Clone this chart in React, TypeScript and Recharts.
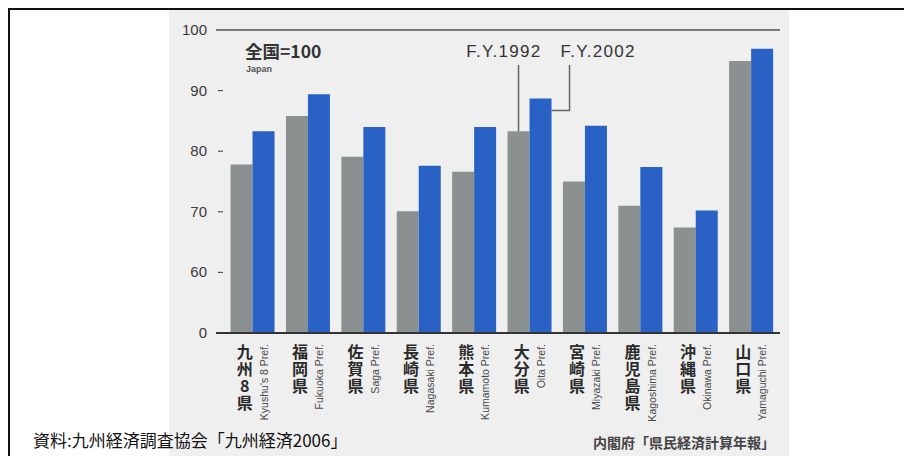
import { BarChart, Bar, XAxis, YAxis, ReferenceLine, LabelList } from "recharts";

// 一人当たり県民所得（全国=100）
const prefectures = ["九州8県", "福岡県", "佐賀県", "長崎県", "熊本県", "大分県", "宮崎県", "鹿児島県", "沖縄県", "山口県"];
const prefecturesEn = [
  "Kyushu's 8 Pref.",
  "Fukuoka Pref.",
  "Saga Pref.",
  "Nagasaki Pref.",
  "Kumamoto Pref.",
  "Oita Pref.",
  "Miyazaki Pref.",
  "Kagoshima Pref.",
  "Okinawa Pref.",
  "Yamaguchi Pref.",
];
const fy1992 = [77.8, 85.8, 79.1, 70.1, 76.6, 83.3, 75.0, 71.0, 67.4, 94.9];
const fy2002 = [83.3, 89.4, 84.0, 77.6, 84.0, 88.7, 84.2, 77.4, 70.2, 96.9];
// 軸は途中を省略しているので 50 の位置に「0」を表示する
const yTicks = [50, 60, 70, 80, 90, 100];

const data = prefectures.map((name, i) => ({
  name,
  en: prefecturesEn[i],
  fy1992: fy1992[i],
  fy2002: fy2002[i],
}));

const GRAY = "#8b9090";
const BLUE = "#2962c4";
const NUM_FONT = '"Liberation Sans", Arial, sans-serif';
const JP_FONT = '"Noto Sans CJK JP", "Noto Sans", sans-serif';
const ANNOT_TOP = 65;

function YTick({ x, y, payload }: any) {
  const v = payload.value;
  return (
    <g>
      <text x={x - 9} y={y} dy={5} textAnchor="end" fontSize={15} fill="#3a3a3a" fontFamily={NUM_FONT}>
        {v === 50 ? "0" : v}
      </text>
      {v > 50 && v < 100 && <line x1={x + 2} x2={x + 7} y1={y} y2={y} stroke="#555" strokeWidth={1.2} />}
    </g>
  );
}

// 県名は縦書き、英語名は90度回転して右に添える
function XTick({ x, y, payload, index }: any) {
  const en = prefecturesEn[index] ?? "";
  const jx = x - 8;
  const ex = x + 15;
  return (
    <g>
      <text
        x={jx}
        y={y + 11}
        fontSize={16}
        fontWeight={700}
        letterSpacing={1}
        fill="#2a2a2a"
        fontFamily={JP_FONT}
        style={{ writingMode: "vertical-rl", textOrientation: "upright" }}
      >
        {payload.value}
      </text>
      <text
        x={ex}
        y={y + 11}
        transform={`rotate(-90, ${ex}, ${y + 11})`}
        textAnchor="end"
        fontSize={10.5}
        fill="#4a4a4a"
        fontFamily={NUM_FONT}
      >
        {en}
      </text>
    </g>
  );
}

// 大分県の棒から年度ラベルへの引き出し線
function Tag1992(props: any) {
  if (props.value !== "大分県") return null;
  const lx = Number(props.x) + Number(props.width) / 2;
  return (
    <g>
      <line x1={lx} x2={lx} y1={Number(props.y)} y2={ANNOT_TOP} stroke="#666" strokeWidth={1.5} />
      <text x={lx + 23} y={57} textAnchor="end" fontSize={17} letterSpacing={1.3} fill="#333" fontFamily={NUM_FONT}>
        F.Y.1992
      </text>
    </g>
  );
}

function Tag2002(props: any) {
  if (props.value !== "大分県") return null;
  const ex = Number(props.x) + Number(props.width);
  const hy = Number(props.y) + 12;
  const vx = ex + 18;
  return (
    <g>
      <polyline points={`${ex},${hy} ${vx},${hy} ${vx},${ANNOT_TOP}`} fill="none" stroke="#666" strokeWidth={1.5} />
      <text x={vx - 9} y={57} fontSize={17} letterSpacing={1.3} fill="#333" fontFamily={NUM_FONT}>
        F.Y.2002
      </text>
    </g>
  );
}

function JapanTag({ viewBox }: any) {
  const x = viewBox.x + 29;
  const y = viewBox.y;
  return (
    <g>
      <text x={x} y={y + 28} fontSize={17.5} fontWeight={700} fill="#333" fontFamily={JP_FONT}>
        全国=100
      </text>
      <text x={x + 1} y={y + 42} fontSize={9} fontWeight={700} fill="#555" fontFamily={NUM_FONT}>
        Japan
      </text>
    </g>
  );
}

export default function App() {
  return (
    <div
      style={{
        position: "absolute",
        left: 0,
        top: 0,
        width: 904,
        height: 456,
        overflow: "hidden",
        background: "#fff",
        fontFamily: JP_FONT,
      }}
    >
      <div
        style={{
          position: "absolute",
          left: 8,
          top: 8,
          width: 920,
          height: 470,
          borderTop: "2px solid #111",
          borderLeft: "2px solid #111",
        }}
      />
      <div style={{ position: "absolute", left: 169, top: 10, width: 620, height: 446, background: "#efefef" }} />
      <div style={{ position: "absolute", left: 0, top: 0 }}>
        <BarChart
          width={904}
          height={456}
          data={data}
          margin={{ top: 30, right: 124, bottom: 0, left: 0 }}
          barCategoryGap="10%"
          barGap={0}
        >
          <XAxis
            dataKey="name"
            height={123}
            tickLine={false}
            axisLine={false}
            tickSize={0}
            tickMargin={0}
            interval={0}
            padding={{ left: 9, right: 1 }}
            tick={<XTick />}
          />
          <YAxis
            width={216}
            domain={[50, 100]}
            ticks={yTicks}
            allowDataOverflow
            axisLine={false}
            tickLine={false}
            tickSize={0}
            tickMargin={0}
            tick={<YTick />}
          />
          <ReferenceLine y={100} stroke="#555" strokeWidth={1.5} label={(p: any) => <JapanTag viewBox={p.viewBox} />} />
          <Bar dataKey="fy1992" fill={GRAY} isAnimationActive={false}>
            <LabelList dataKey="name" content={<Tag1992 />} />
          </Bar>
          <Bar dataKey="fy2002" fill={BLUE} isAnimationActive={false}>
            <LabelList dataKey="name" content={<Tag2002 />} />
          </Bar>
          <ReferenceLine y={50} stroke="#333" strokeWidth={2} />
        </BarChart>
      </div>
      <div
        style={{
          position: "absolute",
          left: 33,
          top: 429,
          fontSize: 17,
          lineHeight: "22px",
          color: "#111",
          whiteSpace: "nowrap",
        }}
      >
        資料:九州経済調査協会「九州経済2006」
      </div>
      <div
        style={{
          position: "absolute",
          left: 593,
          top: 433,
          fontSize: 14,
          lineHeight: "18px",
          fontWeight: 700,
          color: "#444",
          whiteSpace: "nowrap",
        }}
      >
        内閣府「県民経済計算年報」
      </div>
    </div>
  );
}
